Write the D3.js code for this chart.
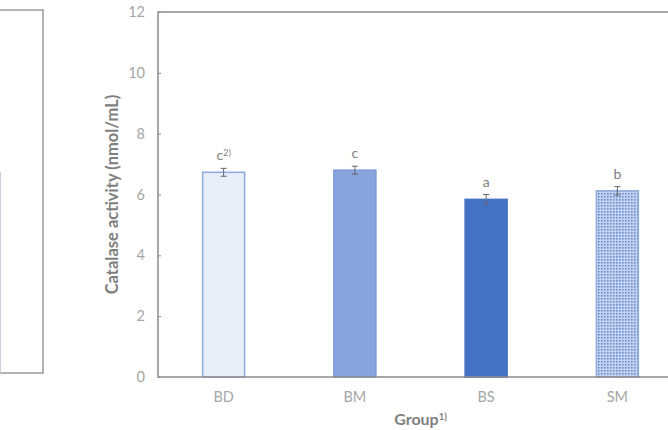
<!DOCTYPE html>
<html>
<head>
<meta charset="utf-8">
<script src="https://cdn.jsdelivr.net/npm/d3@7"></script>
<style>
    html, body {
        margin: 0;
        padding: 0;
        background: #fff;
        overflow: hidden;
    }
    text {
        font-family: Lato, 'Open Sans', sans-serif;
    }
</style>
</head>
<body>
<script>
// 数据
const groups = ['BD', 'BM', 'BS', 'SM'];
const values = [6.73, 6.80, 5.84, 6.12];
const errors = [0.13, 0.13, 0.16, 0.14];
const letters = ['c', 'c', 'a', 'b'];
const yTicks = [0, 2, 4, 6, 8, 10, 12];

// svg区域大小
const width = 668;
const height = 430;
const plot = {
    left: 158,
    right: 683,
    top: 12,
    bottom: 377
};

const axisColor = '#8c8c8c';
const labelColor = '#a6a6a6';
const titleColor = '#808080';

const svg = d3.select('body')
    .append('svg')
    .attr('width', width)
    .attr('height', height);

// 点状图案
const defs = svg.append('defs');
const pattern = defs.append('pattern')
    .attr('id', 'dots')
    .attr('width', 3)
    .attr('height', 3)
    .attr('patternUnits', 'userSpaceOnUse');
pattern.append('rect')
    .attr('width', 3)
    .attr('height', 3)
    .attr('fill', '#c3d2ee');
pattern.append('rect')
    .attr('x', 1)
    .attr('y', 1)
    .attr('width', 1.6)
    .attr('height', 1.6)
    .attr('fill', '#6d8dd2');

const fills = ['#e8eef9', '#87a4dc', '#4472c4', 'url(#dots)'];
const strokes = ['#8eaadd', '#7a98d6', '#4472c4', '#8eaadd'];

// 左侧残留的面板
svg.append('rect')
    .attr('x', -10)
    .attr('y', 10)
    .attr('width', 53)
    .attr('height', 363)
    .attr('fill', 'none')
    .attr('stroke', '#9a9a9a')
    .attr('stroke-width', 1.5);
svg.append('line')
    .attr('x1', 0.5)
    .attr('x2', 0.5)
    .attr('y1', 172)
    .attr('y2', 373)
    .attr('stroke', '#c9d1e2')
    .attr('stroke-width', 1);

// 比例尺
const x = d3.scaleBand()
    .domain(groups)
    .range([plot.left, plot.right])
    .paddingInner(0.68)
    .paddingOuter(0.34);

const y = d3.scaleLinear()
    .domain([0, 12])
    .range([plot.bottom, plot.top]);

// 画矩形
svg.selectAll('rect.bar')
    .data(groups)
    .enter()
    .append('rect')
    .attr('class', 'bar')
    .attr('x', d => x(d))
    .attr('y', (d, i) => y(values[i]))
    .attr('width', x.bandwidth())
    .attr('height', (d, i) => y(0) - y(values[i]))
    .attr('fill', (d, i) => fills[i])
    .attr('stroke', (d, i) => strokes[i])
    .attr('stroke-width', 1.5);

// 误差线
const err = svg.selectAll('g.err')
    .data(groups)
    .enter()
    .append('g')
    .attr('class', 'err')
    .attr('stroke', '#666')
    .attr('stroke-width', 1);
err.append('line')
    .attr('x1', d => x(d) + x.bandwidth() / 2)
    .attr('x2', d => x(d) + x.bandwidth() / 2)
    .attr('y1', (d, i) => y(values[i] + errors[i]))
    .attr('y2', (d, i) => y(values[i] - errors[i]));
err.append('line')
    .attr('x1', d => x(d) + x.bandwidth() / 2 - 3)
    .attr('x2', d => x(d) + x.bandwidth() / 2 + 3)
    .attr('y1', (d, i) => y(values[i] + errors[i]))
    .attr('y2', (d, i) => y(values[i] + errors[i]));
err.append('line')
    .attr('x1', d => x(d) + x.bandwidth() / 2 - 3)
    .attr('x2', d => x(d) + x.bandwidth() / 2 + 3)
    .attr('y1', (d, i) => y(values[i] - errors[i]))
    .attr('y2', (d, i) => y(values[i] - errors[i]));

// 显著性字母
const letterText = svg.selectAll('text.letter')
    .data(groups)
    .enter()
    .append('text')
    .attr('class', 'letter')
    .attr('x', d => x(d) + x.bandwidth() / 2)
    .attr('y', (d, i) => y(values[i] + errors[i]) - 8)
    .attr('text-anchor', 'middle')
    .attr('fill', '#7f7f7f')
    .attr('font-size', '14px')
    .text((d, i) => letters[i]);
letterText.filter((d, i) => i === 0)
    .append('tspan')
    .attr('dy', '-0.45em')
    .attr('font-size', '9px')
    .text('2)');

// 坐标轴
const yAxis = svg.append('g')
    .attr('transform', `translate(${plot.left},0)`)
    .call(d3.axisRight(y).tickValues(yTicks).tickSize(3).tickFormat(d3.format('d')));
yAxis.select('.domain').remove();
yAxis.selectAll('.tick line').attr('stroke', axisColor);
yAxis.selectAll('.tick text')
    .attr('x', -13)
    .attr('text-anchor', 'end')
    .attr('fill', labelColor)
    .attr('font-size', '14.5px')
    .attr('font-family', 'Lato, sans-serif');

const xAxis = svg.append('g')
    .attr('transform', `translate(0,${plot.bottom})`)
    .call(d3.axisBottom(x).tickSize(0).tickPadding(15));
xAxis.select('.domain').remove();
xAxis.selectAll('.tick text')
    .attr('fill', labelColor)
    .attr('font-size', '14.5px')
    .attr('font-family', 'Lato, sans-serif');

// 边框
svg.append('path')
    .attr('d', `M${plot.right},${plot.top}H${plot.left}V${plot.bottom}H${plot.right}`)
    .attr('fill', 'none')
    .attr('stroke', axisColor)
    .attr('stroke-width', 1.5);

// 标题
svg.append('text')
    .attr('transform', `translate(118,${(plot.top + plot.bottom) / 2}) rotate(-90)`)
    .attr('text-anchor', 'middle')
    .attr('fill', titleColor)
    .attr('font-size', '16.5px')
    .attr('font-weight', 'bold')
    .text('Catalase activity (nmol/mL)');

const xt = svg.append('text')
    .attr('x', (plot.left + plot.right) / 2)
    .attr('y', 425)
    .attr('text-anchor', 'middle')
    .attr('fill', titleColor)
    .attr('font-size', '16px')
    .attr('font-weight', 'bold')
    .text('Group');
xt.append('tspan')
    .attr('dy', '-0.5em')
    .attr('font-size', '9.5px')
    .text('1)');
</script>
</body>
</html>
